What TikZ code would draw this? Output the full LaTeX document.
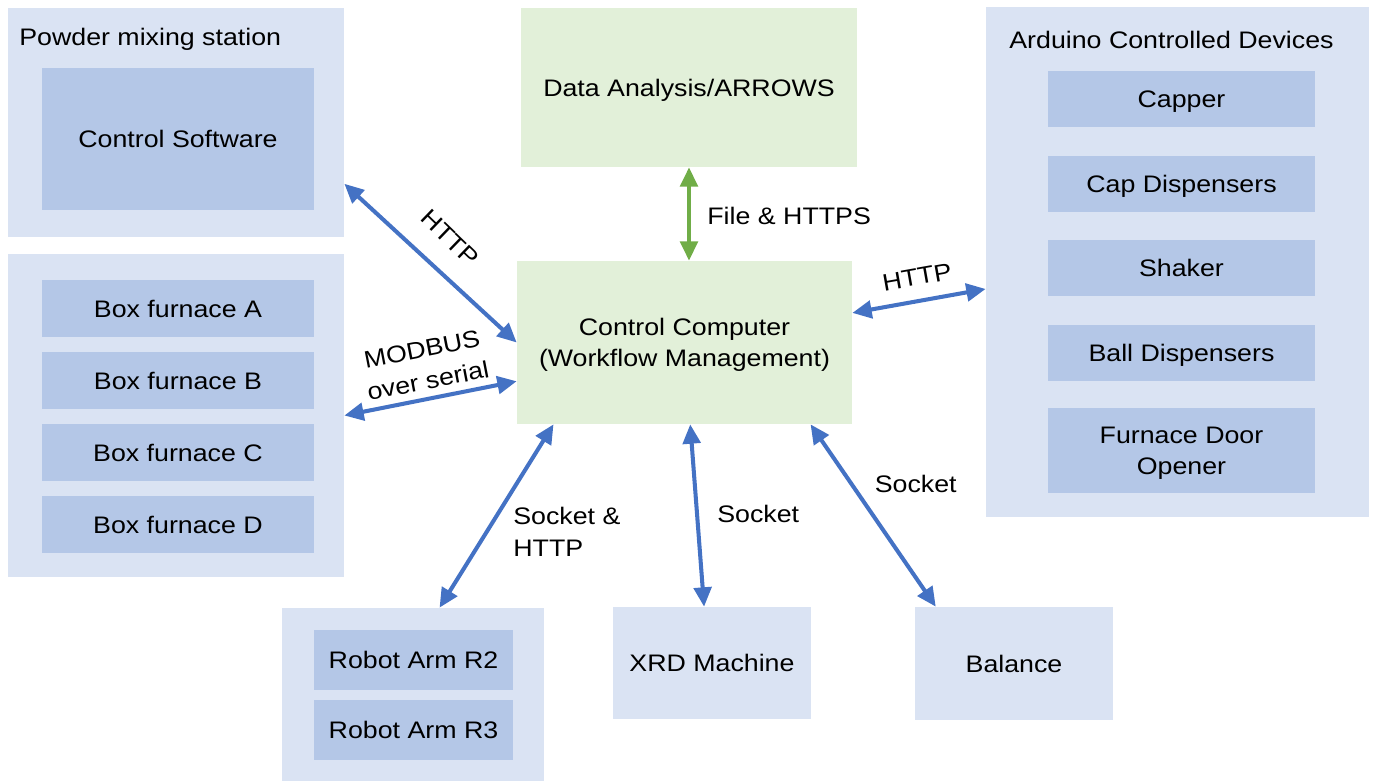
\documentclass[tikz,border=0pt]{standalone}
\usepackage{xcolor}
\usepackage{fontspec}
\setmainfont[FakeStretch=1.12]{Liberation Sans}
\usepackage{tikz}
\usetikzlibrary{arrows.meta}
\definecolor{panelblue}{RGB}{218, 227, 243}
\definecolor{itemblue}{RGB}{180, 199, 231}
\definecolor{panelgreen}{RGB}{226, 240, 217}
\definecolor{linkblue}{RGB}{68, 114, 196}
\definecolor{linkgreen}{RGB}{112, 173, 71}

\tikzset{
    sz/.style 2 args={minimum width=#1*0.02cm, minimum height=#2*0.02cm},
    panel/.style={fill=panelblue, inner sep=0pt},
    item/.style={fill=itemblue, inner sep=0pt},
    hub/.style={fill=panelgreen, inner sep=0pt},
    oneline/.style={text height=9.7pt, text depth=0pt},
    twoline/.style={align=center, text height=27.8pt, text depth=0pt},
    lbl/.style={inner sep=0pt},
    link/.style={draw=linkblue, line width=2.3pt, {Triangle[length=11pt, width=10pt]}-{Triangle[length=11pt, width=10pt]}},
    glink/.style={link, draw=linkgreen}
}

\begin{document}
\begin{tikzpicture}[x=0.02cm, y=-0.02cm, font=\fontsize{13.6}{18.1}\selectfont]
        \useasboundingbox (0,0) rectangle (1375,781);

        % Powder mixing station
        \node[panel, sz={336}{229}] (pms) at (176,122.5) {};
        \node[lbl, anchor=base west] (pmslbl) at (19,45) {Powder mixing station};
        \node[item, oneline, sz={272}{142}] (csw) at (178,139) {Control Software};

        % Box furnaces
        \node[panel, sz={336}{323}] (furn) at (176,415.5) {};
        \foreach \lt/\yy in {A/308.5, B/380.5, C/452.5, D/524.5}
            \node[item, oneline, sz={272}{57}] (furn\lt) at (178,\yy) {Box furnace \lt};

        % Data analysis and control computer
        \node[hub, oneline, sz={336}{159}] (data) at (689,87.5) {Data Analysis/ARROWS};
        \node[hub, twoline, sz={335}{163}] (ccomp) at (684.5,342.5) {Control Computer\\(Workflow Management)};

        % Arduino devices
        \node[panel, sz={383}{510}] (ard) at (1177.5,262) {};
        \node[lbl, anchor=base] (ardlbl) at (1171.5,48) {Arduino Controlled Devices};
        \foreach \yy/\txt [count=\i] in {99/Capper, 184/Cap Dispensers, 268/Shaker, 353/Ball Dispensers}
            \node[item, oneline, sz={267}{56}] (dev\i) at (1181.5,\yy) {\txt};
        \node[item, twoline, sz={267}{85}] (dev5) at (1181.5,450.5) {Furnace Door\\Opener};

        % Robots, XRD, balance
        \node[panel, sz={262}{173}] (robot) at (413,694.5) {};
        \node[item, oneline, sz={199}{60}] (arm2) at (413.5,660) {Robot Arm R2};
        \node[item, oneline, sz={199}{60}] (arm3) at (413.5,730) {Robot Arm R3};
        \node[panel, oneline, sz={198}{112}] (xrd) at (712,663) {XRD Machine};
        \node[panel, oneline, sz={198}{113}] (bal) at (1014,663.5) {Balance};

        % Links
        \draw[link] (pms.-20) -- (ccomp.west);
        \node[rotate=-44] (lhttpa) at (450,238) {HTTP};
        \draw[link] (furn.east) -- (ccomp.193);
        \node[rotate=11, align=center, lbl] (lmod) at (425,365) {MODBUS\\over serial};
        \draw[glink] (data.south) -- (data.south |- ccomp.north);
        \node[lbl, anchor=west] (lfile) at (707,216) {File \& HTTPS};
        \draw[link] (ccomp.10) -- (ard.188);
        \node[rotate=10] (lhttpb) at (917,277) {HTTP};
        \draw[link] (ccomp.212) -- (robot.73);
        \node[lbl, anchor=west, align=left] (lsock) at (513,531.5) {Socket \&\\HTTP};
        \draw[link] (ccomp.-86) -- (xrd.98);
        \node[lbl, anchor=west] (lsockx) at (717,514) {Socket};
        \draw[link] (ccomp.-33) -- (bal.144);
        \node[lbl, anchor=west] (lsockb) at (874.5,483.5) {Socket};
    \end{tikzpicture}
\end{document}
